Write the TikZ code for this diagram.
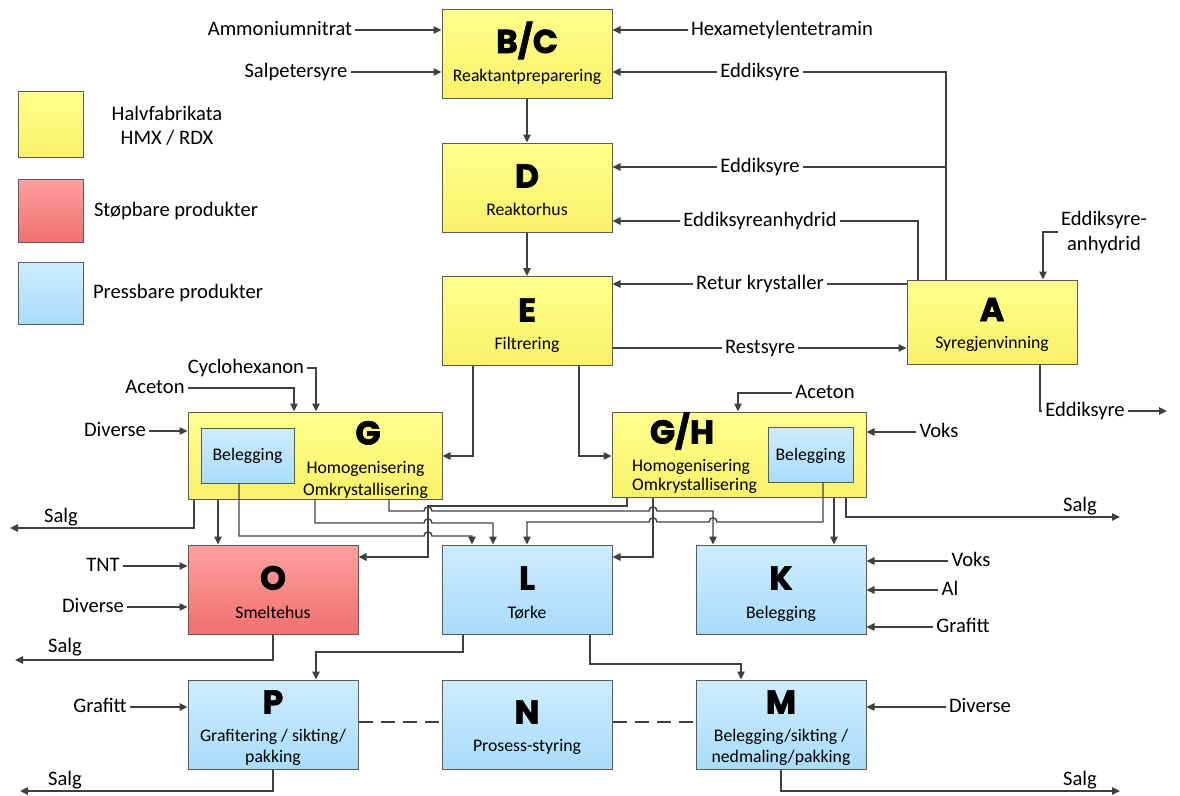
\documentclass[tikz,border=0pt]{standalone}
\usepackage{fontspec}
\setmainfont{Carlito}
\newfontfamily\heavyfont{Poppins}[BoldFeatures={FakeBold=2}]
\usetikzlibrary{arrows.meta}

\definecolor{lnc}{HTML}{404040}
\definecolor{bdc}{HTML}{5A5A5A}
\definecolor{yT}{HTML}{FFFF8C}
\definecolor{yB}{HTML}{F8F16A}
\definecolor{rT}{HTML}{FFA0A0}
\definecolor{rB}{HTML}{F07070}
\definecolor{bT}{HTML}{CFECFF}
\definecolor{bB}{HTML}{A8DCF8}

\begin{document}
\begin{tikzpicture}[x=1pt,y=-1pt,
  box/.style={draw=bdc, line width=1pt, inner sep=0pt, minimum width=170pt, minimum height=89pt},
  ybox/.style={box, top color=yT, bottom color=yB},
  rbox/.style={box, top color=rT, bottom color=rB},
  bbox/.style={box, top color=bT, bottom color=bB},
  big/.style={font=\heavyfont\bfseries\fontsize{33}{36}\selectfont, anchor=base, inner sep=0pt},
  sub/.style={font=\fontsize{17.7}{21}\selectfont, inner sep=0pt, text height=13pt, text depth=4.5pt},
  lbl/.style={font=\fontsize{20.6}{24}\selectfont, inner sep=3pt, text height=15pt, text depth=5pt},
  ln/.style={draw=lnc, line width=1.4pt},
  arr/.style={ln, -{Triangle[length=8pt,width=7.5pt]}},
  dsh/.style={draw=lnc, line width=1.4pt, dash pattern=on 14pt off 8pt}]
\useasboundingbox (0,0) rectangle (1180,795);

% ---------- legend ----------
\node[ybox, minimum width=65pt, minimum height=66pt] (legY) at (50.5,124) {};
\node[rbox, minimum width=65pt, minimum height=63pt] (legR) at (50.5,211) {};
\node[bbox, minimum width=65pt, minimum height=62pt] (legB) at (50.5,293) {};
\node[lbl, align=center] (legYt) at (167,139) {Halvfabrikata\\HMX / RDX};
\node[lbl] (legRt) at (176,211) {Støpbare produkter};
\node[lbl] (legBt) at (178,293) {Pressbare produkter};

% ---------- process boxes ----------
\node[ybox] (bc) at (527,53.5) {};
\node[ybox] (d)  at (527,187.5) {};
\node[ybox] (e)  at (527,321) {};
\node[ybox, minimum height=84pt] (a) at (992,322) {};
\node[ybox, minimum width=254pt, minimum height=87pt] (g)  at (315,455.5) {};
\node[ybox, minimum width=254pt, minimum height=85pt] (gh) at (739,454.5) {};
\node[bbox, minimum width=93pt, minimum height=55pt] (gb)  at (247.5,455.5) {};
\node[bbox, minimum width=85pt, minimum height=55pt] (ghb) at (810.5,454.5) {};
\node[rbox] (o) at (273,589.5) {};
\node[bbox] (l) at (527,589.5) {};
\node[bbox] (k) at (781,589.5) {};
\node[bbox] (p) at (273,724.5) {};
\node[bbox] (n) at (527,724.5) {};
\node[bbox] (m) at (781,724.5) {};

% box titles
\node[big] (bcL) at (527,53) {B/C};
\node[sub] (bcS) at (527,77) {Reaktantpreparering};
\node[big] (dL) at (527,187.5) {D};
\node[sub] (dS) at (527,211) {Reaktorhus};
\node[big] (eL) at (527,321.5) {E};
\node[sub] (eS) at (527,345) {Filtrering};
\node[big] (aL) at (992,321) {A};
\node[sub] (aS) at (992,344) {Syregjenvinning};
\node[big] (gL) at (368,444.5) {G};
\node[sub] (gS1) at (365.5,469) {Homogenisering};
\node[sub] (gS2) at (365.5,491) {Omkrystallisering};
\node[sub] (gbS) at (247.5,456) {Belegging};
\node[big] (ghL) at (682,443.5) {G/H};
\node[sub, anchor=west] (ghS1) at (632,467) {Homogenisering};
\node[sub, anchor=west] (ghS2) at (632,486.5) {Omkrystallisering};
\node[sub] (ghbS) at (810.5,456) {Belegging};
\node[big] (oL) at (273,589.5) {O};
\node[sub] (oS) at (273,614) {Smeltehus};
\node[big] (lL) at (527,589.5) {L};
\node[sub] (lS) at (527,614) {Tørke};
\node[big] (kL) at (781,589.5) {K};
\node[sub] (kS) at (781,614) {Belegging};
\node[big] (pL) at (273,713.5) {P};
\node[sub] (pS1) at (273,737) {Grafitering / sikting/};
\node[sub] (pS2) at (273,758) {pakking};
\node[big] (nL) at (527,723.5) {N};
\node[sub] (nS) at (527,747) {Prosess-styring};
\node[big] (mL) at (781,713.5) {M};
\node[sub] (mS1) at (781,737) {Belegging/sikting /};
\node[sub] (mS2) at (781,758) {nedmaling/pakking};

% ---------- stream labels ----------
\node[lbl] (amm)  at (280,30)  {Ammoniumnitrat};
\node[lbl] (salp) at (296,72)  {Salpetersyre};
\node[lbl] (hex)  at (782,30)  {Hexametylentetramin};
\node[lbl] (ed1)  at (760,72)  {Eddiksyre};
\node[lbl] (ed2)  at (760,167) {Eddiksyre};
\node[lbl] (eah)  at (760,221) {Eddiksyreanhydrid};
\node[lbl] (ret)  at (760,284) {Retur krystaller};
\node[lbl] (rest) at (760,348) {Restsyre};
\node[lbl, align=center, font=\fontsize{20.6}{25}\selectfont] (eah2) at (1104,245) {Eddiksyre-\\anhydrid};
\node[lbl] (eout) at (1085,411) {Eddiksyre};
\node[lbl] (cyc)  at (246,368) {Cyclohexanon};
\node[lbl] (ace1) at (155,388) {Aceton};
\node[lbl] (div1) at (115,431) {Diverse};
\node[lbl] (ace2) at (825,393) {Aceton};
\node[lbl] (voks1) at (939,432) {Voks};
\node[lbl] (salgG)  at (61,517)   {Salg};
\node[lbl] (salgGH) at (1080,506) {Salg};
\node[lbl] (tnt)  at (103,566) {TNT};
\node[lbl] (div2) at (93,607)  {Diverse};
\node[lbl] (salgO) at (65,647) {Salg};
\node[lbl] (voks2) at (971,561) {Voks};
\node[lbl] (al)   at (950,590) {Al};
\node[lbl] (graf1) at (963,627) {Grafitt};
\node[lbl] (graf2) at (100,707) {Grafitt};
\node[lbl] (div3) at (980,707) {Diverse};
\node[lbl] (salgP) at (65,780) {Salg};
\node[lbl] (salgM) at (1080,780) {Salg};

% free ends of outgoing streams
\coordinate (sG)   at (10,528);
\coordinate (sGH)  at (1120,517);
\coordinate (sO)   at (15,660);
\coordinate (sP)   at (20,791);
\coordinate (sM)   at (1120,791);
\coordinate (eoEnd) at (1167,411);

% ---------- feeds into B/C, D, E ----------
\draw[arr] (amm.east) -- (amm.east -| bc.west);
\draw[arr] (salp.east) -- (salp.east -| bc.west);
\draw[arr] (hex.west) -- (hex.west -| bc.east);
\draw[ln]  (a.north -| 946,0) |- (ed1.east);
\draw[arr] (ed1.west) -- (ed1.west -| bc.east);
\draw[ln]  (a.north -| 946,0) |- (ed2.east);
\draw[arr] (ed2.west) -- (ed2.west -| d.east);
\draw[ln]  (a.north -| 918,0) |- (eah.east);
\draw[arr] (eah.west) -- (eah.west -| d.east);
\draw[ln]  (a.west |- 0,284) -- (ret.east);
\draw[arr] (ret.west) -- (ret.west -| e.east);
\draw[ln]  (e.east |- rest.west) -- (rest.west);
\draw[arr] (rest.east) -- (rest.east -| a.west);
\draw[arr] (eah2.west |- 0,232) -| (a.north -| 1043,0);
\draw[ln]  (a.south -| 1040,0) |- (eout.west);
\draw[arr] (eout.east) -- (eoEnd);

\draw[arr] (bc.south) -- (d.north);
\draw[arr] (d.south) -- (e.north);
\draw[arr] (e.south -| 473,0) |- (g.east |- 0,456);
\draw[arr] (e.south -| 579,0) |- (gh.west |- 0,456);

% ---------- feeds into G and G/H ----------
\draw[arr] (cyc.east) -| (g.north -| 316,0);
\draw[arr] (ace1.east) -| (g.north -| 294,0);
\draw[arr] (div1.east) -- (div1.east -| g.west);
\draw[arr] (ace2.west) -| (gh.north -| 738,0);
\draw[arr] (voks1.west) -- (voks1.west -| gh.east);

% ---------- outputs of G and G/H ----------
\draw[arr] (g.south -| 194,0) |- (sG);
\draw[arr] (g.south -| 218,0) -- (o.north -| 218,0);
\draw[arr] (gh.south -| 846,0) |- (sGH);
\draw[arr] (gh.south -| 834,0) -- (k.north -| 834,0);
\draw[arr] (gh.south -| 627,0) -- (627,506) -- (428,506) -- (428,557) -- (o.east |- 0,557);
\draw[arr] (gh.south -| 653,0) -- (653,557) -- (l.east |- 0,557);
\draw[arr] (g.south -| 389,0) -- (389,511) -- (424,511)
  .. controls (424,505.5) and (432,505.5) .. (432,511) -- (649,511)
  .. controls (649,505.5) and (657,505.5) .. (657,511) -- (713,511) -- (k.north -| 713,0);
\draw[arr] (g.south -| 315,0) -- (315,523) -- (424,523)
  .. controls (424,517.5) and (432,517.5) .. (432,523) -- (493,523) -- (l.north -| 493,0);
\draw[arr] (gb.south -| 239,0) -- (239,536) -- (424,536)
  .. controls (424,530.5) and (432,530.5) .. (432,536) -- (472,536) -- (l.north -| 472,0);
\draw[arr] (ghb.south -| 823,0) -- (823,522) -- (717,522)
  .. controls (717,516.5) and (709,516.5) .. (709,522) -- (657,522)
  .. controls (657,516.5) and (649,516.5) .. (649,522) -- (527,522) -- (l.north -| 527,0);

% ---------- feeds into O, K, P, M ----------
\draw[arr] (tnt.east) -- (tnt.east -| o.west);
\draw[arr] (div2.east) -- (div2.east -| o.west);
\draw[arr] (voks2.west) -- (voks2.west -| k.east);
\draw[arr] (al.west) -- (al.west -| k.east);
\draw[arr] (graf1.west) -- (graf1.west -| k.east);
\draw[arr] (graf2.east) -- (graf2.east -| p.west);
\draw[arr] (div3.west) -- (div3.west -| m.east);

% ---------- lower stage ----------
\draw[arr] (o.south) |- (sO);
\draw[arr] (l.south -| 463,0) |- (316,652) -- (p.north -| 316,0);
\draw[arr] (l.south -| 590,0) |- (741,664) -- (m.north -| 741,0);
\draw[arr] (p.south) |- (sP);
\draw[arr] (m.south) |- (sM);
\draw[dsh] (p.east |- 0,722) -- (n.west |- 0,722);
\draw[dsh] (n.east |- 0,722) -- (m.west |- 0,722);
\end{tikzpicture}
\end{document}
